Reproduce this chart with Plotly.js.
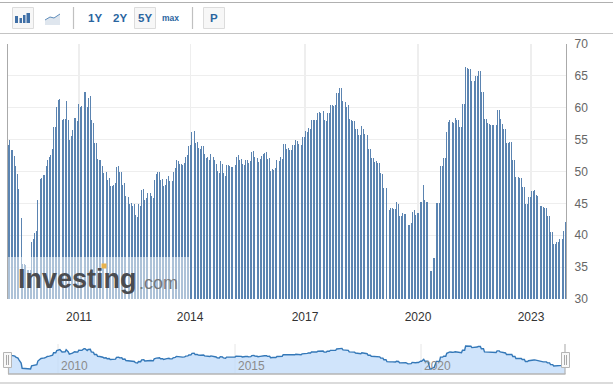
<!DOCTYPE html>
<html><head><meta charset="utf-8">
<script src="https://cdn.plot.ly/plotly-3.0.1.min.js"></script>
<style>html,body{margin:0;padding:0;background:#fff;overflow:hidden}#c{width:613px;height:384px}</style>
</head><body><div id="c"></div>
<script>
const valuesEarly=[54.2,54.9,53.4,53.4,52.4,50.8,49.6,47.2,42.7,35.5,35.5,35.3,34.5,34.5,34.5,
38.9,39.4,40.3,40.6,45.5,48.8,49,49.5,49.5,50.9,51.8,52.3,52.6,53.5];
const valuesPeak2011=[57,57,60.1,61.2,61.4,58.1,58.2,58.2,61.1,58.1,55,55.5,56.5,58.4,58.4,57.9,60.6,60.1,60.3,62.5,62.5,60.1,61.5,61.8,58.1,57.6];
const valuesMid2012=[54.5,54.5,52,51.8,51.8,50.8,49.8,50,48.7,49,47.7,47.7,47.9,48.2,50.7,50.9,49.9,50,47.9,48.2,46.2,46,44.9,45,44.6,44.9,43.2,42.9,44.9,44.6,47.1,47.2,45.5,45.8,46.6,46.6,46.2,45.8,48.7,49.6,49.9,50,48.7,48.8,47.7,47.9,48.8,49.3,48.5,48.5,50,50.5,51.8,51.6,51.2,51.2,51,51.3,52.3,52.6,54,54.2,56.2,56.4,54.5,54.6,53.7,53.5];
const valuesMid2015=[54,54,52.7,52.1,52.3,51.8,52.7,52.3,51.8,51.2,50.1,49.8,51.6,51.2,49.8,49.3,51,51,50.9,50.7,50.7,51,52.3,52.6,51.8,52,51.2,51,51.8,51.8,51.3,51.6,53,53.2,52.3,52.1,51.5,52,52.4,52.7,52.9,53,52,52.1,50.1,50.4,50.2,50.5,51.8,51.6,52.3,52,54.3,54.3,53.5,53.7,53.4,53.4,54.2,54.2,55,54.8,54.3,54.2,55.4,55.4,56.4,56.2,56.8,56.7,58.1,58.1,58.1,58.1,59.2,59.3,59.2,59.5,58.1,57.9,59.2,59.2,60.4,60.4,60.3,60.4,62.3,62.3,63.1,63.1,61,60.9,60.1,60.4,58.2,58.1,57.9,57.9,56.7,56.7,55.7,55.7,57.1,56.7,55.9,55.7,53.5,53.5,52.1,52.1,51.5,51.6,51.3,51.3,49.8,49.6,47.4,47.4];
const values2019=[44.6,44,44.3,44.3,44.1,44.1,45.2,44.9,43,43,43.5,43.3,43.3,41.6,41.6,41.9,43.6,44,43.2,43.5,43.5,45.2,45.2,47.9,45.5,45.2,45.2];
const values2020on=[34.4,34.4,36.4,36.4,45.1,45.1,45.1,50.9,50.9,52.1,52.1,56.2,57.8,58.1,57.8,57.6,58.4,58.1,58.1,57,57,60.6,60.6,66.4,66.2,66.1,66.1,64.2,64.2,65,65,65.8,65.8,62.5,62.5,58.2,58.2,57.6,57.5,57.3,57.3,57.3,57.3,59.6,59.6,58.2,57.5,56.7,56.7,54.5,54.5,54.6,54.6,51.8,51.8,49.1,49.1,49,49,47.6,47.6,44.9,44.9,46,46,46.9,46.9,47.1,46.3,46.2,44.6,44.6,44.4,44.3,44.3,43,43,40.5,40.5,38.6,38.6,38.9,38.9,39.4,39.4,40.7,42.1];
const barValues=[...valuesEarly,...valuesPeak2011,...valuesMid2012,...valuesMid2015,...values2019,...values2020on];
const yearTicks=[2011,2014,2017,2020,2023];
const yearTickPositions=[2011,2013.95,2017,2020,2023];
const yTicks=[30,35,40,45,50,55,60,65,70];
const navLabels=['2010','2015','2020'];
const toolbarLabels=['1Y','2Y','5Y','max','P'];
const firstYear=2009.13,lastYear=2023.91;
const N=barValues.length;
const pairStep=(lastYear-firstYear)/((N-1)/2);
const barYears=barValues.map((v,i)=>firstYear+Math.floor(i/2)*pairStep+(i%2)*0.0265);

const L=8,R=566,T=44,B=374,PW=R-L,PH=B-T;
const px=x=>(x-L)/PW, py=y=>(B-y)/PH;
const shapes=[];
function rect(x0,y0,x1,y1,fill,line,layer){shapes.push({type:'rect',xref:'paper',yref:'paper',x0:px(x0),x1:px(x1),y0:py(y0),y1:py(y1),fillcolor:fill||'rgba(0,0,0,0)',line:line?{color:line,width:1}:{width:0},layer:layer||'above'});}
function hline(x0,x1,y,c,w){shapes.push({type:'line',xref:'paper',yref:'paper',x0:px(x0),x1:px(x1),y0:py(y),y1:py(y),line:{color:c,width:w||1},layer:'above'});}
function vline(x,y0,y1,c,w,layer){shapes.push({type:'line',xref:'paper',yref:'paper',x0:px(x),x1:px(x),y0:py(y0),y1:py(y1),line:{color:c,width:w||1},layer:layer||'above'});}
function poly(pts,fill,line,w){shapes.push({type:'path',xref:'paper',yref:'paper',path:'M'+pts.map(p=>px(p[0])+','+py(p[1])).join('L')+(fill?'Z':''),fillcolor:fill||'rgba(0,0,0,0)',line:line?{color:line,width:w||1}:{width:0},layer:'above'});}
// toolbar chrome
hline(0,613,2.5,'#b0b0b0',1.2);hline(0,613,33.5,'#c4c4c4',1.2);hline(0,613,383,'#b8b8b8',1.2);
rect(12.5,7.5,33.5,28.5,'#f7f7f7','#dcdcdc');
rect(15,16,18,23,'#3f6fa6');rect(19.5,18,22,23,'#3f6fa6');rect(23,15,25.5,23,'#3f6fa6');rect(26.5,13,30,23,'#3f6fa6');
poly([[45,25],[45,20],[50,17],[54,18],[60,14],[60,25]],'#dfe6ee');
poly([[45,20],[50,17],[54,18],[60,14]],null,'#5f8dbb',1);
vline(73.5,7,29,'#c0c0c0',1.2);vline(192.5,7,29,'#c0c0c0',1.2);
rect(134.5,7.5,155.5,28.5,'#f7f7f7','#dcdcdc');rect(203.5,7.5,224.5,28.5,'#f7f7f7','#dcdcdc');
// watermark
rect(8,257,189,299,'rgba(255,255,255,0.5)');
// navigator chrome
[58,235,421].forEach(x=>vline(x,344,374,'#e6e6e6',1,'below'));
vline(8.5,354,374,'#b5b5b5',1.2);hline(8,565.5,374,'#b5b5b5',1.4);vline(565,344,374,'#b5b5b5',1.2);
[[3.5,11.5],[561.5,569.5]].forEach(h=>{rect(h[0],352.5,h[1],367.5,'#f8f8f8','#b5b5b5');vline(h[0]+3,355,365,'#a8a8a8',1);vline(h[0]+5,355,365,'#a8a8a8',1);});

const ann=[];
function txt(t,x,y,size,color,extra){ann.push(Object.assign({text:t,xref:'paper',yref:'paper',x:px(x),y:py(y),showarrow:false,xanchor:'center',yanchor:'middle',font:{family:'Liberation Sans, Arial, sans-serif',size:size,color:color},borderpad:0,borderwidth:0},extra||{}));}
txt('<b>'+toolbarLabels[0]+'</b>',94.5,18,11.5,'#2a659f');
txt('<b>'+toolbarLabels[1]+'</b>',120,18,11.5,'#2a659f');
txt('<b>'+toolbarLabels[2]+'</b>',145,18,11.5,'#2a659f');
txt('<b>'+toolbarLabels[3]+'</b>',170.5,18,8.5,'#2a659f');
txt('<b>'+toolbarLabels[4]+'</b>',213.5,18,11.5,'#2a659f');
txt('<b>Investing</b>',18,279,27,'#4a4c50',{xanchor:'left'});
txt('.com',139,283,18,'#77797c',{xanchor:'left'});
ann.push({text:' ',xref:'paper',yref:'paper',x:px(100.5),y:py(269),showarrow:false,bgcolor:'#e8b24d',width:4,height:4,borderpad:0,font:{size:1}});
txt(navLabels[0],74,366,12,'#8b8b8b');
txt(navLabels[1],251,366,12,'#8b8b8b');
txt(navLabels[2],437,366,12,'#8b8b8b');

const xr=[2011-(79-L)/37.67,2023+(R-531)/37.67];
Plotly.newPlot('c',[
 {type:'bar',x:barYears,y:barValues,width:0.0265,marker:{color:'#5b84b1',line:{width:0}},xaxis:'x',yaxis:'y',hoverinfo:'skip'},
 {type:'scatter',mode:'lines',x:barYears,y:barValues,fill:'tozeroy',fillcolor:'rgba(190,218,250,0.72)',line:{color:'#3478b8',width:1.4},xaxis:'x2',yaxis:'y2',hoverinfo:'skip'}
],{
 width:613,height:384,margin:{l:L,r:613-R,t:T,b:384-B,pad:0},paper_bgcolor:'#fff',plot_bgcolor:'#fff',showlegend:false,bargap:0,
 font:{family:'Liberation Sans, Arial, sans-serif'},
 xaxis:{domain:[0,1],range:xr,anchor:'y',tickmode:'array',tickvals:yearTickPositions,ticktext:yearTicks.map(String),showgrid:true,gridcolor:'#eeeeee',gridwidth:1.2,zeroline:false,ticks:'outside',ticklen:7,tickcolor:'rgba(0,0,0,0)',tickfont:{size:12,color:'#333'},showline:false},
 yaxis:{domain:[py(299),1],range:[30,70],side:'right',anchor:'x',tickmode:'array',tickvals:yTicks,showgrid:true,gridcolor:'#eeeeee',gridwidth:1.2,zeroline:false,ticks:'outside',ticklen:5,tickcolor:'rgba(0,0,0,0)',tickfont:{size:12,color:'#666'},showline:true,linecolor:'#aaaaaa',linewidth:1.2,mirror:true},
 xaxis2:{domain:[0,1],range:xr,anchor:'y2',showticklabels:false,showgrid:false,zeroline:false,ticks:''},
 yaxis2:{domain:[0,py(345)],range:[27.5,67.8],anchor:'x2',showticklabels:false,showgrid:false,zeroline:false,ticks:''},
 shapes:shapes,annotations:ann
},{staticPlot:true,displayModeBar:false});
</script></body></html>
